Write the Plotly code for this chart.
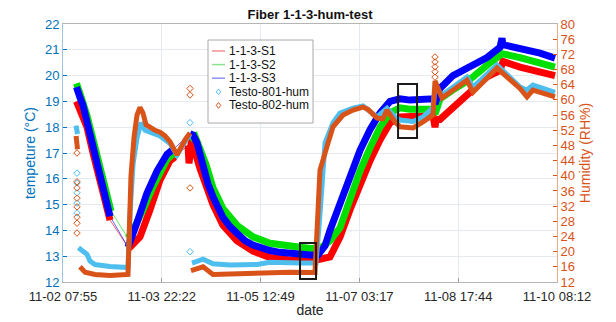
import plotly.graph_objects as go
import pandas as pd

YEAR = "2023-"

# ---------------- data ----------------
X_TICKS = ["11-02 07:55", "11-03 22:22", "11-05 12:49", "11-07 03:17", "11-08 17:44", "11-10 08:12"]

S3_time = ["11-02 13:10", "11-02 13:45", "11-02 14:32", "11-02 15:42", "11-02 17:16", "11-02 19:36",
           "11-02 22:19", "11-03 01:03", "11-03 02:13", "11-03 02:13",
           "11-03 09:13", "11-03 10:46", "11-03 12:43", "11-03 16:37", "11-03 20:30", "11-04 00:24",
           "11-04 02:44", "11-04 03:31", "11-04 03:31",
           "11-04 09:21", "11-04 10:31", "11-04 12:04", "11-04 14:25", "11-04 16:21", "11-04 18:18",
           "11-04 20:15", "11-04 22:11", "11-05 00:55", "11-05 03:38", "11-05 06:46", "11-05 09:52",
           "11-05 13:22", "11-05 16:29", "11-05 20:23", "11-06 00:16", "11-06 04:10", "11-06 08:04",
           "11-06 11:10", "11-06 13:54", "11-06 15:50", "11-06 19:44", "11-06 23:38", "11-07 03:31",
           "11-07 07:25", "11-07 11:18", "11-07 15:11", "11-07 19:05", "11-07 22:59", "11-08 04:02",
           "11-08 07:56", "11-08 08:43", "11-08 10:39", "11-08 15:43", "11-08 22:20", "11-09 04:57",
           "11-09 10:01", "11-09 10:47", "11-09 11:11", "11-09 17:48", "11-10 01:35", "11-10 07:25"]
S3_temp = [19.55, 19.3, 19.15, 18.85, 18.25, 17.2,
           16.2, 15.2, 14.55, None,
           13.35, 13.75, 14.3, 15.45, 16.3, 16.95,
           17.1, 17.2, None,
           17.75, 17.7, 17.4, 16.4, 15.8, 15.3,
           14.85, 14.5, 14.15, 13.9, 13.6, 13.43,
           13.3, 13.22, 13.15, 13.1, 13.06, 13.05,
           13.05, 13.4, 14.0, 15.06, 16.2, 17.1,
           17.9, 18.55, 19.0, 19.1, 19.05, 19.1,
           19.1, 18.9, 19.5, 20.0, 20.33, 20.7,
           21.1, 21.45, 21.2, 21.07, 20.87, 20.68]

S2_time = ["11-02 13:10", "11-02 13:45", "11-02 14:32", "11-02 17:16", "11-02 19:36", "11-02 22:19",
           "11-03 01:03", "11-03 02:36", "11-03 02:36",
           "11-03 09:13", "11-03 11:10", "11-03 15:03", "11-03 18:57", "11-04 00:24", "11-04 03:54",
           "11-04 03:54",
           "11-04 09:21", "11-04 11:18", "11-04 13:14", "11-04 15:35", "11-04 18:18", "11-04 22:11",
           "11-05 03:38", "11-05 09:52", "11-05 16:29", "11-06 00:16", "11-06 08:04", "11-06 11:57",
           "11-06 15:50", "11-06 19:44", "11-06 23:38", "11-07 03:31", "11-07 07:25", "11-07 11:18",
           "11-07 15:11", "11-07 19:05", "11-07 22:59", "11-08 07:56", "11-08 08:43", "11-08 10:39",
           "11-08 15:43", "11-08 22:20", "11-09 04:57", "11-09 10:47", "11-09 17:48", "11-10 01:35",
           "11-10 07:25"]
S2_temp = [19.7, 19.45, 19.3, 18.45, 17.5, 16.5,
           15.45, 14.75, None,
           13.7, 14.0, 14.8, 15.7, 16.75, 17.05,
           None,
           17.55, 17.65, 17.15, 16.55, 15.65, 14.85,
           14.2, 13.75, 13.5, 13.38, 13.3, 13.3,
           13.6, 14.1, 15.3, 16.3, 17.2, 18.0,
           18.55, 18.75, 18.7, 18.7, 18.5, 19.1,
           19.45, 19.85, 20.4, 20.85, 20.7, 20.5,
           20.33]

S1_time = ["11-02 13:10", "11-02 13:45", "11-02 14:32", "11-02 17:16", "11-02 19:36", "11-02 22:19",
           "11-03 01:03", "11-03 02:13", "11-03 02:13",
           "11-03 09:36", "11-03 13:53", "11-03 17:47", "11-03 21:40", "11-04 01:34", "11-04 03:31",
           "11-04 03:31",
           "11-04 08:34", "11-04 08:58", "11-04 09:44", "11-04 10:31", "11-04 13:14", "11-04 16:21",
           "11-04 18:18", "11-04 22:11", "11-05 03:38", "11-05 09:52", "11-05 16:29", "11-06 00:16",
           "11-06 08:04", "11-06 15:50", "11-06 19:44", "11-06 23:38", "11-07 03:31", "11-07 07:25",
           "11-07 11:18", "11-07 15:11", "11-07 19:05", "11-07 22:59", "11-08 07:56", "11-08 08:43",
           "11-08 09:06", "11-08 10:39", "11-08 15:43", "11-08 22:20", "11-09 04:57", "11-09 10:01",
           "11-09 11:11", "11-09 17:48", "11-10 01:35", "11-10 07:25"]
S1_temp = [19.0, 18.85, 18.7, 18.0, 17.0, 16.0,
           15.0, 14.4, None,
           13.3, 13.75, 14.8, 15.95, 16.7, 16.85,
           None,
           17.3, 16.6, 17.35, 17.3, 16.4, 15.4,
           15.0, 14.2, 13.6, 13.2, 12.95, 12.85,
           12.8, 12.97, 13.74, 14.8, 15.8, 16.7,
           17.5, 18.16, 18.4, 18.4, 18.45, 18.0,
           18.3, 18.3, 18.75, 19.3, 19.95, 20.2,
           20.55, 20.33, 20.15, 20.0]

H801_time = ["11-02 13:00", "11-02 13:34", "11-02 13:34",
             "11-02 13:57", "11-02 15:42", "11-02 17:16", "11-02 18:26", "11-02 20:22", "11-03 02:13",
             "11-03 09:13", "11-03 10:00", "11-03 11:10", "11-03 12:43", "11-03 14:17", "11-03 15:50",
             "11-03 17:47", "11-03 21:40", "11-04 01:34", "11-04 04:17", "11-04 07:24", "11-04 09:21",
             "11-04 09:21",
             "11-04 10:08", "11-04 14:25", "11-04 18:18", "11-05 00:55", "11-05 11:26", "11-05 16:29",
             "11-06 04:10", "11-06 10:24", "11-06 11:57", "11-06 13:54", "11-06 17:01", "11-06 19:44",
             "11-07 00:47", "11-07 04:41", "11-07 10:08", "11-07 14:02", "11-07 17:08", "11-07 19:05",
             "11-08 00:09", "11-08 04:02", "11-08 07:56", "11-08 08:43", "11-08 11:26", "11-08 21:10",
             "11-08 23:30", "11-09 08:50", "11-09 17:48", "11-09 20:31", "11-09 22:51", "11-10 07:25"]
H801_hum = [53.2, 51.0, None,
            21.0, 20.0, 19.3, 17.5, 16.6, 16.1,
            15.8, 30.0, 43.0, 50.0, 54.0, 52.0,
            51.5, 50.5, 48.5, 45.5, 49.0, 51.0,
            None,
            17.0, 18.0, 16.8, 16.5, 16.6, 17.2,
            17.0, 17.0, 30.0, 48.6, 54.0, 56.5,
            57.8, 58.4, 55.5, 57.8, 55.5, 54.7,
            54.3, 55.5, 58.0, 63.5, 61.3, 66.0,
            63.4, 69.2, 63.4, 62.6, 63.9, 62.0]

H802_time = ["11-02 13:00", "11-02 13:34", "11-02 13:34",
             "11-02 14:32", "11-02 16:29", "11-02 20:22", "11-03 02:13", "11-03 09:13", "11-03 09:36",
             "11-03 10:23", "11-03 11:33", "11-03 12:43", "11-03 13:53", "11-03 15:03", "11-03 16:13",
             "11-03 17:47", "11-03 19:44", "11-03 21:40", "11-03 23:37", "11-04 01:34", "11-04 03:07",
             "11-04 04:17", "11-04 05:51", "11-04 07:24", "11-04 09:21", "11-04 09:21",
             "11-04 09:44", "11-04 14:25", "11-04 18:18", "11-05 00:55", "11-05 13:22", "11-06 00:16",
             "11-06 10:00", "11-06 11:57", "11-06 15:04", "11-06 17:01", "11-06 20:54", "11-07 00:47",
             "11-07 04:41", "11-07 06:38", "11-07 10:08", "11-07 12:28", "11-07 14:02", "11-07 17:08",
             "11-07 19:05", "11-08 00:09", "11-08 04:02", "11-08 07:56", "11-08 08:43", "11-08 11:26",
             "11-08 14:33", "11-08 21:10", "11-08 23:30", "11-09 08:50", "11-09 17:48", "11-09 20:31",
             "11-09 22:51", "11-10 04:41", "11-10 07:25"]
H802_hum = [50.5, 47.0, None,
            16.0, 14.6, 14.0, 13.7, 14.0, 25.0,
            40.0, 50.0, 56.0, 58.0, 56.5, 53.5,
            52.8, 52.0, 51.5, 50.5, 49.0, 47.0,
            45.5, 47.5, 49.5, 51.3, None,
            15.0, 16.0, 14.0, 14.2, 14.4, 14.6,
            14.5, 41.5, 48.6, 52.9, 56.0, 57.3,
            58.1, 57.5, 55.2, 55.0, 57.3, 54.2,
            52.9, 52.6, 54.2, 56.0, 65.0, 60.5,
            62.0, 65.2, 62.0, 68.4, 63.0, 60.8,
            62.6, 61.5, 60.8]

# scattered single readings (open diamonds)
H801_pts_time = ["11-02 13:22"] * 5 + ["11-04 09:21"] * 2
H801_pts_hum = [40.7, 38.1, 35.5, 32.8, 30.2, 54.0, 20.0]
H802_pts_time = ["11-02 13:22"] * 8 + ["11-04 09:21"] * 3 + ["11-08 08:43"] * 5
H802_pts_hum = [46.0, 38.4, 36.8, 34.1, 31.8, 29.1, 27.5, 24.9,
                63.0, 61.3, 36.8,
                71.3, 70.0, 68.7, 67.4, 66.0]

# highlighted windows (time span, temperature span)
BOX_time = [("11-06 04:10", "11-06 10:24"), ("11-07 18:20", "11-08 01:43")]
BOX_temp = [(12.12, 13.51), (17.58, 19.67)]

LEGEND_NAMES = ["1-1-3-S1", "1-1-3-S2", "1-1-3-S3", "Testo-801-hum", "Testo-802-hum"]

# ---------------- styling ----------------
C_LEFT = "#0072BD"
C_RIGHT = "#D95319"
C_801 = "#4DBEEE"
C_802 = "#D95319"
S_COLORS = {"1-1-3-S1": "#ff0000", "1-1-3-S2": "#00e000", "1-1-3-S3": "#0000ff"}
S_LEGEND = {"1-1-3-S1": "#f29090", "1-1-3-S2": "#8ee28e", "1-1-3-S3": "#9090f2"}
FONT = "Liberation Sans, Arial, Helvetica, sans-serif"

W, H = 616, 322
ML, MR, MT, MB = 63, 59, 24, 40
PW, PH = W - ML - MR, H - MT - MB


def to_dt(lst):
    return pd.to_datetime([YEAR + s for s in lst], format="%Y-%m-%d %H:%M")


def px(xp):
    return (xp - ML) / PW


def py(yp):
    return 1 - (yp - MT) / PH


fig = go.Figure()

series = [("1-1-3-S1", S1_time, S1_temp), ("1-1-3-S2", S2_time, S2_temp), ("1-1-3-S3", S3_time, S3_temp)]
for name, t, v in series:
    fig.add_trace(go.Scatter(x=to_dt(t), y=v, mode="lines", connectgaps=True,
                             line=dict(color=S_COLORS[name], width=1), opacity=0.6,
                             showlegend=False, hoverinfo="skip"))
for name, t, v in series:
    fig.add_trace(go.Scatter(x=to_dt(t), y=v, mode="lines", connectgaps=False,
                             line=dict(color=S_COLORS[name], width=7),
                             showlegend=False, name=name))

fig.add_trace(go.Scatter(x=to_dt(H801_time), y=H801_hum, mode="lines", yaxis="y2",
                         line=dict(color=C_801, width=5), showlegend=False, name="Testo-801-hum"))
fig.add_trace(go.Scatter(x=to_dt(H802_time), y=H802_hum, mode="lines", yaxis="y2",
                         line=dict(color=C_802, width=5), showlegend=False, name="Testo-802-hum"))
fig.add_trace(go.Scatter(x=to_dt(H801_pts_time), y=H801_pts_hum, mode="markers", yaxis="y2",
                         marker=dict(symbol="diamond-open", size=5, color=C_801, line=dict(width=1)),
                         showlegend=False))
fig.add_trace(go.Scatter(x=to_dt(H802_pts_time), y=H802_pts_hum, mode="markers", yaxis="y2",
                         marker=dict(symbol="diamond-open", size=5, color=C_802, line=dict(width=1)),
                         showlegend=False))

shapes = []
for (t0, t1), (v0, v1) in zip(BOX_time, BOX_temp):
    shapes.append(dict(type="rect", xref="x", yref="y", x0=to_dt([t0])[0], x1=to_dt([t1])[0],
                       y0=v0, y1=v1, line=dict(color="#1a1a1a", width=2), fillcolor="rgba(0,0,0,0)"))

# MATLAB-style legend box
LEG_L, LEG_R, LEG_T, LEG_B = 208, 313, 40, 123
shapes.append(dict(type="rect", xref="paper", yref="paper", x0=px(LEG_L), x1=px(LEG_R),
                   y0=py(LEG_B), y1=py(LEG_T), line=dict(color="#a8a8a8", width=1), fillcolor="white"))
annotations = []
entry_y = [51, 64.6, 78.2, 91.8, 105.4]
leg_colors = [S_LEGEND["1-1-3-S1"], S_LEGEND["1-1-3-S2"], S_LEGEND["1-1-3-S3"], C_801, C_802]
for i, name in enumerate(LEGEND_NAMES):
    yy = entry_y[i]
    if i < 3:
        shapes.append(dict(type="line", xref="paper", yref="paper", x0=px(212), x1=px(225),
                           y0=py(yy), y1=py(yy), line=dict(color=leg_colors[i], width=1.5)))
    else:
        cx = 218.5
        path = (f"M {px(cx)},{py(yy - 2.8)} L {px(cx + 2.3)},{py(yy)} "
                f"L {px(cx)},{py(yy + 2.8)} L {px(cx - 2.3)},{py(yy)} Z")
        shapes.append(dict(type="path", xref="paper", yref="paper", path=path,
                           line=dict(color=leg_colors[i], width=1), fillcolor="rgba(0,0,0,0)"))
    annotations.append(dict(text=name, xref="paper", yref="paper", x=px(227), y=py(yy),
                            xanchor="left", yanchor="middle", showarrow=False,
                            font=dict(size=12, color="#111111")))

tick_dt = to_dt(X_TICKS)
fig.update_layout(
    width=W, height=H,
    margin=dict(l=ML, r=MR, t=MT, b=MB, autoexpand=False),
    paper_bgcolor="white", plot_bgcolor="white",
    font=dict(family=FONT, size=13, color="#262626"),
    title=dict(text="<b>Fiber 1-1-3-hum-test</b>", x=0.5, xref="paper", xanchor="center",
               y=1 - 14 / H, yref="container", yanchor="middle",
               font=dict(size=13, color="#111111")),
    xaxis=dict(type="date", range=[tick_dt[0], tick_dt[-1]], tickvals=list(tick_dt),
               ticktext=X_TICKS, tickfont=dict(size=13, color="#262626"), ticklabelstandoff=2,
               showgrid=True, gridcolor="#e4eaf0", gridwidth=1,
               ticks="inside", ticklen=4, tickcolor="#9a9a9a",
               showline=True, linecolor="#b5b5b5", linewidth=1, mirror=True, zeroline=False,
               title=dict(text="date", font=dict(size=14, color="#262626"), standoff=2)),
    yaxis=dict(range=[12, 22], dtick=1, tickfont=dict(size=13, color=C_LEFT),
               showgrid=True, gridcolor="#e4eaf0", gridwidth=1,
               ticks="inside", ticklen=4, tickcolor=C_LEFT,
               showline=True, linecolor="#9fc4e2", linewidth=1, zeroline=False,
               title=dict(text="tempeture (°C)", font=dict(size=14, color=C_LEFT), standoff=6)),
    yaxis2=dict(range=[12, 80], dtick=4, overlaying="y", side="right", anchor="x",
                tickfont=dict(size=13, color=C_RIGHT), showgrid=False,
                ticks="inside", ticklen=4, tickcolor=C_RIGHT,
                showline=True, linecolor="#e9a98a", linewidth=1, zeroline=False,
                title=dict(text="Humidity (RH%)", font=dict(size=14, color=C_RIGHT), standoff=6)),
    showlegend=False,
    shapes=shapes,
    annotations=annotations,
)

fig.write_html("out.html", config={"displayModeBar": False},
               post_script="document.body.style.margin='0px';document.body.style.padding='0px';")
